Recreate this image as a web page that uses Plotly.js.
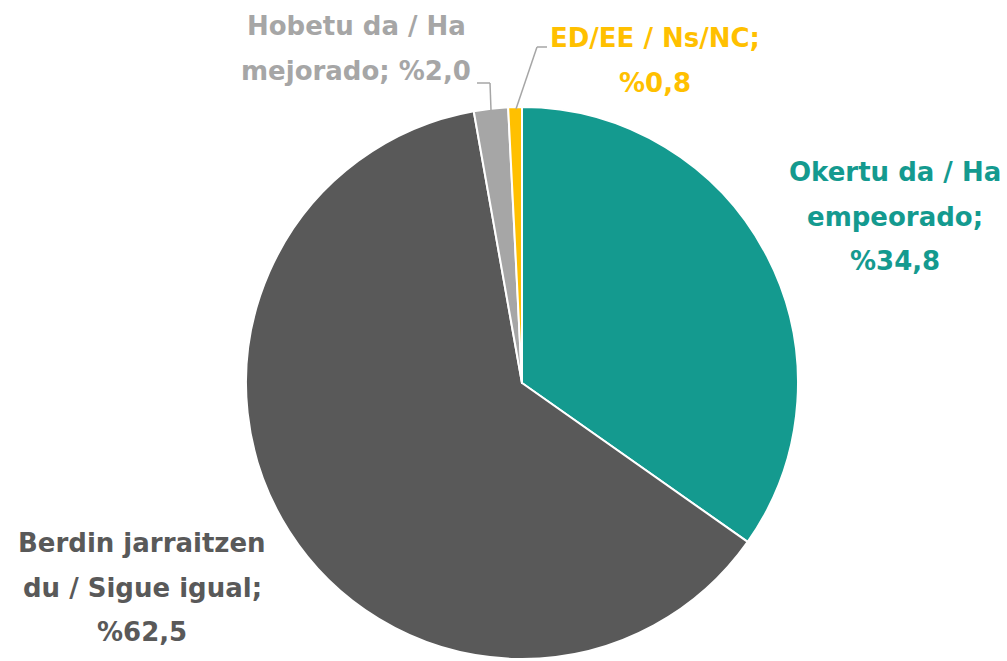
<!DOCTYPE html>
<html>
<head>
<meta charset="utf-8">
<script src="https://cdn.plot.ly/plotly-3.0.1.min.js"></script>
<style>html,body{margin:0;padding:0;background:#fff;}#chart{width:1007px;height:661px;}</style>
</head>
<body>
<div id="chart"></div>
<script>
// Data
const categories = ["Okertu da / Ha empeorado", "Berdin jarraitzen du / Sigue igual", "Hobetu da / Ha mejorado", "ED/EE / Ns/NC"];
const values = [34.8, 62.5, 2.0, 0.8];
const colors = ["#149A8F", "#595959", "#A6A6A6", "#FFC000"];
// label lines as drawn in the chart
const labelLines = [
  ["Okertu da / Ha", "empeorado;", "%34,8"],
  ["Berdin jarraitzen", "du / Sigue igual;", "%62,5"],
  ["Hobetu da / Ha", "mejorado; %2,0"],
  ["ED/EE / Ns/NC;", "%0,8"]
];

const W = 1007, H = 661;
// label layout (pixel centres of first line, line step)
const labelPos = [
  {x: 895, y: 172},
  {x: 142, y: 543},
  {x: 356, y: 26},
  {x: 655, y: 38}
];
const lineStep = 44.5;
const FONT = "DejaVu Sans, sans-serif";

const annotations = [];
labelLines.forEach((lines, i) => {
  lines.forEach((t, j) => {
    annotations.push({
      text: "<b>" + t + "</b>",
      x: labelPos[i].x / W, y: 1 - (labelPos[i].y + j * lineStep) / H,
      xref: "paper", yref: "paper", xanchor: "center", yanchor: "middle",
      showarrow: false,
      font: {family: FONT, size: 26, color: colors[i]}
    });
  });
});

function px(x, y) { return {x: x / W, y: 1 - y / H}; }
function seg(a, b, color) {
  const p = px(a[0], a[1]), q = px(b[0], b[1]);
  return {type: "line", xref: "paper", yref: "paper", x0: p.x, y0: p.y, x1: q.x, y1: q.y,
          line: {color: color, width: 1.5}};
}
const shapes = [
  seg([477, 83], [490, 83], "#A6A6A6"),
  seg([490, 83], [491, 110], "#A6A6A6"),
  seg([516, 109], [537, 47], "#A6A6A6"),
  seg([537, 47], [547, 47], "#A6A6A6")
];

const cx = 522, cy = 383, r = 276;
const trace = {
  type: "pie",
  values: values,
  labels: categories,
  marker: {colors: colors, line: {color: "#ffffff", width: 2}},
  sort: false,
  direction: "clockwise",
  rotation: 0,
  textinfo: "none",
  hoverinfo: "label+value",
  showlegend: false,
  domain: {x: [(cx - r) / W, (cx + r) / W], y: [1 - (cy + r) / H, 1 - (cy - r) / H]}
};

Plotly.newPlot("chart", [trace], {
  width: W, height: H,
  margin: {l: 0, r: 0, t: 0, b: 0},
  paper_bgcolor: "#ffffff",
  showlegend: false,
  annotations: annotations,
  shapes: shapes,
  font: {family: FONT}
}, {displayModeBar: false, staticPlot: true});
</script>
</body>
</html>
